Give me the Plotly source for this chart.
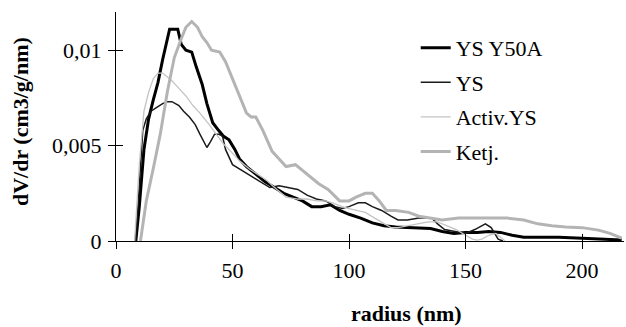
import plotly.graph_objects as go

# ---- data ----
x_y50a = [8.5, 10, 12, 14, 16, 18, 20, 22, 23, 26.5, 28, 30, 32.5, 34.5, 37, 39, 41.5, 44, 46, 48.5,
          51, 53, 56, 60, 64, 68, 72, 76, 80, 84, 88, 92, 96, 100, 105, 110, 115, 120, 125, 130,
          135, 140, 145, 150, 155, 160, 165, 170, 175, 180, 190, 200, 210, 217]
y_y50a = [0, .0018, .0048, .0064, .0074, .0083, .0095, .0106, .0111, .0111, .0103, .0100, .0099, .0091, .0082, .0072, .0062, .0058, .0055, .0053,
          .0048, .0043, .0039, .0035, .0031, .0028, .0025, .0023, .0021, .0018, .0018, .0019, .0016, .0014, .0012, .00095, .0008, .00073, .0007, .0007,
          .00065, .0005, .0004, .00045, .00045, .0005, .00045, .0003, .0002, .0002, .0002, .00015, .0001, .00005]

x_ys = [8.5, 10, 11.5, 13, 15, 17.5, 20, 22, 24, 27, 29, 31.5, 34, 36, 38, 39, 40.5, 42.3, 44, 45.7,
        47, 50, 54, 58, 62, 66, 70, 74, 78, 82, 86, 90, 94, 97, 100, 104, 107, 110, 114, 118,
        121, 125, 130, 135.5, 138, 141, 145, 150, 154, 158.5, 161, 164, 166]
y_ys = [0, .003, .0058, .0064, .0068, .007, .0072, .0073, .0073, .0071, .0068, .0065, .0061, .0056, .0051, .0049, .0052, .0056, .0056, .0055,
        .0048, .0040, .0037, .0034, .0031, .0028, .0029, .0028, .0027, .0024, .0022, .0021, .0018, .0017, .0018, .002, .002, .0018, .0016, .0013,
        .0011, .0011, .0012, .0012, .0009, .0006, .0005, .0004, .0006, .0009, .0007, .0001, 0]

x_act = [8, 10, 12, 14, 16, 18, 20, 24, 27, 30, 33, 36, 40, 43, 46, 50, 53, 57, 61, 64.5,
         69, 73, 78, 82, 86, 90, 93, 97, 100, 104, 107, 111, 115, 118, 121, 125, 130, 134, 138, 142,
         146, 150, 153, 155, 157, 160, 163, 165, 167]
y_act = [0, .004, .0068, .0078, .0085, .0088, .0088, .0084, .008, .0076, .0071, .0067, .0061, .0056, .0051, .0046, .0042, .0038, .0035, .0032,
         .0027, .0023, .0022, .0022, .0021, .0021, .002, .0018, .0017, .0016, .0015, .0012, .0009, .0007, .0007, .0008, .0009, .001, .001, .0008,
         .0006, .0003, .0001, .00005, .0001, .0003, .0004, .0002, 0]

x_ketj = [10.5, 13, 16, 19, 22, 25, 28, 30, 32.5, 35, 37, 39, 41, 44.5, 47, 50, 53, 56, 58, 60,
          63, 67, 70, 73, 77, 80, 84, 87, 91, 96, 100, 103, 107, 110, 113, 116, 120, 125.6, 130, 135,
          140, 147, 155, 162, 168, 175, 181, 187, 193, 200, 207, 212, 217]
y_ketj = [0, .0021, .0038, .0056, .0078, .0096, .0106, .0112, .0115, .0112, .0107, .0104, .0100, .0099, .0094, .0085, .0076, .0067, .0065, .0065,
          .0058, .0047, .0043, .0039, .0040, .0037, .0033, .0030, .0027, .0021, .0021, .0023, .0025, .0025, .0021, .0016, .0016, .0015, .0013, .0012,
          .0011, .0012, .0012, .0012, .0012, .0011, .0009, .0008, .00073, .0007, .00057, .0004, .00015]

x_ticks = [0, 50, 100, 150, 200]
y_ticks = [0, 0.005, 0.01]
y_ticktext = ["0", "0,005", "0,01"]

FONT = "Liberation Serif"
FS = 22

fig = go.Figure()
fig.add_trace(go.Scatter(x=x_y50a, y=y_y50a, mode="lines", name="YS Y50A", legendgroup="a",
                         line=dict(color="#000000", width=3)))
fig.add_trace(go.Scatter(x=x_ys, y=y_ys, mode="lines", name="YS", legendgroup="b",
                         line=dict(color="#1a1a1a", width=1.5)))
fig.add_trace(go.Scatter(x=x_act, y=y_act, mode="lines", name="Activ.YS", legendgroup="c",
                         line=dict(color="#c4c4c4", width=1.3)))
fig.add_trace(go.Scatter(x=x_ketj, y=y_ketj, mode="lines", name="Ketj.", legendgroup="d",
                         line=dict(color="#b4b4b4", width=3)))

XR = [0, 218]
YR = [0, 0.012]

fig.update_layout(
    width=626, height=327,
    margin=dict(l=116, r=2, t=12, b=86),
    paper_bgcolor="white", plot_bgcolor="white",
    font=dict(family=FONT, size=FS, color="black"),
    showlegend=True,
    legend=dict(x=0.59, y=0.935, xanchor="left", yanchor="top",
                bgcolor="rgba(0,0,0,0)", font=dict(size=FS, family=FONT),
                tracegroupgap=3, itemwidth=30),
    xaxis=dict(range=XR, tickvals=x_ticks, ticks="outside", ticklen=7, tickwidth=1,
               tickcolor="black", showline=True, linecolor="black", linewidth=1,
               showgrid=False, zeroline=False, ticklabelstandoff=3,
               tickfont=dict(size=FS, family=FONT)),
    yaxis=dict(range=YR, tickvals=y_ticks, ticktext=y_ticktext, ticks="outside", ticklen=7,
               tickwidth=1, tickcolor="black", showline=True, linecolor="black", linewidth=1,
               showgrid=False, zeroline=False, ticklabelstandoff=2,
               tickfont=dict(size=FS, family=FONT)),
    xaxis2=dict(range=XR, overlaying="x", anchor="y", tickvals=x_ticks, ticks="inside",
                ticklen=7, tickwidth=1, tickcolor="black", showticklabels=False,
                showline=False, showgrid=False, zeroline=False, side="bottom"),
    yaxis2=dict(range=YR, overlaying="y", anchor="x", tickvals=y_ticks, ticks="inside",
                ticklen=7, tickwidth=1, tickcolor="black", showticklabels=False,
                showline=False, showgrid=False, zeroline=False, side="left"),
    annotations=[
        dict(text="<b>radius (nm)</b>", xref="paper", yref="paper", x=(406 - 116) / 508,
             y=-(313 - 241) / 229, xanchor="center", yanchor="middle", showarrow=False,
             font=dict(size=FS, family=FONT)),
        dict(text="<b>dV/dr (cm3/g/nm)</b>", xref="paper", yref="paper", x=-(116 - 20) / 508,
             y=(241 - 122) / 229, xanchor="center", yanchor="middle", showarrow=False,
             textangle=-90, font=dict(size=FS, family=FONT)),
    ],
)
# invisible trace so the overlay axes are drawn
fig.add_trace(go.Scatter(x=[0], y=[0], xaxis="x2", yaxis="y2", mode="lines",
                         showlegend=False, hoverinfo="skip", line=dict(width=0)))

fig.write_html("out.html")
